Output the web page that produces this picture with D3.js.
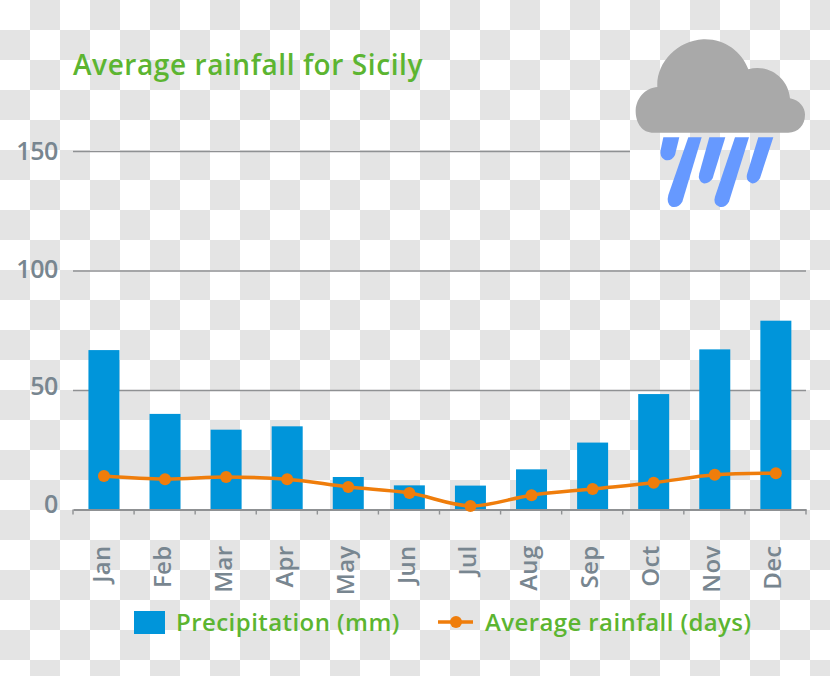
<!DOCTYPE html>
<html><head><meta charset="utf-8">
<script src="https://cdn.jsdelivr.net/npm/d3@7/dist/d3.min.js"></script>
<style>html,body{margin:0;padding:0;background:#fff}svg{display:block}text{font-family:"Open Sans",sans-serif;font-weight:600}</style>
</head><body><div id="c"></div>
<script>
const months=["Jan","Feb","Mar","Apr","May","Jun","Jul","Aug","Sep","Oct","Nov","Dec"];
const precipitation=[66.7,40,33.4,34.8,13.6,10.1,10,16.8,28,48.3,67,79];
const rainDays=[14,12.7,13.6,12.7,9.4,6.9,1.5,6,8.6,11.2,14.5,15.2];
const yTicks=[0,50,100,150];
const titleText="Average rainfall for Sicily";
const legendLabels=["Precipitation (mm)","Average rainfall (days)"];
const W=830,H=676;
const green="#5cb531",blue="#0095da",orange="#ef7d0b",label="#788690",gridC="#8f9193";
const svg=d3.select("#c").append("svg").attr("width",W).attr("height",H);
const defs=svg.append("defs");
const pat=defs.append("pattern").attr("id","chk").attr("width",60).attr("height",60).attr("patternUnits","userSpaceOnUse");
pat.append("rect").attr("width",60).attr("height",60).attr("fill","#fff");
pat.append("rect").attr("x",30).attr("width",30).attr("height",30).attr("fill","#e4e4e4");
pat.append("rect").attr("y",30).attr("width",30).attr("height",30).attr("fill","#e4e4e4");
svg.append("rect").attr("width",W).attr("height",H).attr("fill","url(#chk)");
const x=d3.scaleBand().domain(months).range([73,806]);
const y=d3.scaleLinear().domain([0,150]).range([509.5,151]);
const barW=31;
const yAx=svg.append("g").attr("transform","translate(73,0)").call(d3.axisLeft(y).tickValues(yTicks).tickSize(0).tickPadding(15));
yAx.select(".domain").remove();
// the reference's value labels sit at their own spacing, not quite on the grid lines
const labelDy={0:3,50:4,100:6.7,150:8};
yAx.selectAll("text").attr("font-size",25).attr("fill",label).attr("y",0).attr("dy",d=>labelDy[d]).attr("letter-spacing",-0.4).style("font-family",'"Open Sans",sans-serif');
yAx.selectAll(".tick").filter(d=>d>0).append("line").attr("x1",0).attr("x2",d=>d===150?557:733).attr("stroke",gridC).attr("stroke-width",1.6);
svg.append("g").selectAll("rect").data(precipitation).join("rect")
 .attr("x",(d,i)=>x(months[i])+x.bandwidth()/2-barW/2+0.4).attr("width",barW)
 .attr("y",d=>y(d)).attr("height",d=>y(0)-y(d)).attr("fill",blue);
const xAx=svg.append("g").attr("transform","translate(0,509.5)").call(d3.axisBottom(x).tickSize(0).tickFormat(""));
xAx.select(".domain").attr("stroke",gridC).attr("stroke-width",1.8);
const edges=d3.range(13).map(i=>73+i*x.step());
xAx.selectAll(".edge").data(edges).join("line").attr("class","edge").attr("x1",d=>d).attr("x2",d=>d).attr("y1",0).attr("y2",5).attr("stroke",gridC).attr("stroke-width",1.4);
xAx.selectAll(".mon").data(months).join("text").attr("class","mon")
 .attr("transform",d=>`translate(${x(d)+x.bandwidth()/2+6},36) rotate(-90)`)
 .attr("text-anchor","end").attr("font-size",24).attr("letter-spacing",0.3).attr("fill",label).text(d=>d);
const cx=(d,i)=>x(months[i])+x.bandwidth()/2+0.4;
const line=d3.line().x(cx).y(d=>y(d)).curve(d3.curveCatmullRom.alpha(0.5));
svg.append("path").attr("d",line(rainDays)).attr("fill","none").attr("stroke",orange).attr("stroke-width",3.5);
svg.append("g").selectAll("circle").data(rainDays).join("circle").attr("cx",cx).attr("cy",d=>y(d)).attr("r",6).attr("fill",orange);
svg.append("text").attr("x",73).attr("y",75).attr("font-size",28).attr("letter-spacing",0.58).attr("fill",green).text(titleText);
svg.append("rect").attr("x",134).attr("y",611).attr("width",31).attr("height",23).attr("fill",blue);
svg.append("text").attr("x",176).attr("y",631).attr("font-size",24).attr("letter-spacing",0.44).attr("fill",green).text(legendLabels[0]);
svg.append("line").attr("x1",438).attr("x2",473).attr("y1",622).attr("y2",622).attr("stroke",orange).attr("stroke-width",3.5);
svg.append("circle").attr("cx",456).attr("cy",622).attr("r",6).attr("fill",orange);
svg.append("text").attr("x",485).attr("y",631).attr("font-size",24).attr("letter-spacing",0.4).attr("fill",green).text(legendLabels[1]);
const ic=svg.append("g").attr("transform","translate(620,20) scale(0.3333)");
ic.append("path").attr("fill","#a9a9a9").attr("d","M95,338 C60,335 46,300 47,270 C50,230 80,203 112,201 C108,130 170,62 250,58 C315,56 365,95 385,148 C440,130 505,170 510,235 C540,240 556,265 555,285 C555,315 535,338 505,338 Z");
const drops=["M130,352 L178,352 L165,405 Q155,425 135,420 Q118,412 122,390 Z",
"M205,352 L245,352 L187,545 Q175,565 155,560 Q138,552 145,525 Z",
"M268,352 L316,352 L278,475 Q268,492 250,490 Q232,482 238,460 Z",
"M345,352 L387,352 L327,545 Q315,565 298,560 Q278,552 285,530 Z",
"M415,352 L460,352 L420,475 Q410,492 395,490 Q375,482 382,460 Z"];
ic.selectAll(".d").data(drops).join("path").attr("class","d").attr("fill","#6699ff").attr("d",d=>d);
</script></body></html>
